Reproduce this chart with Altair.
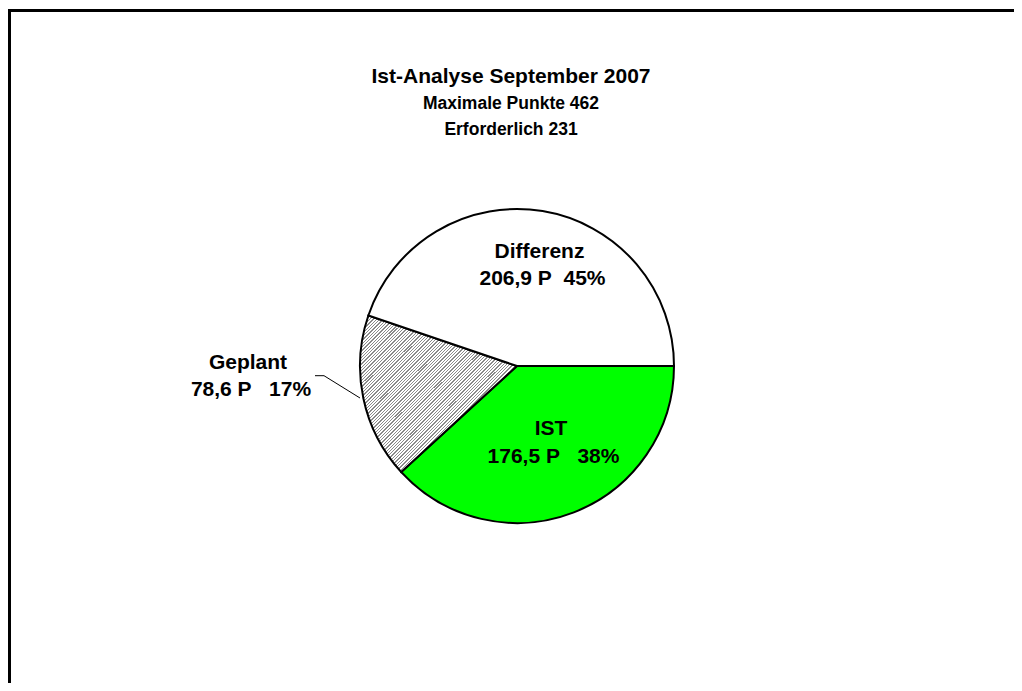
import math
import altair as alt
import pandas as pd

# ---- data ----
categories = ["IST", "Geplant", "Differenz"]
points = [176.5, 78.6, 206.9]
slice_order = [0, 1, 2]
gaps = ["\u00a0\u00a0 ", "\u00a0\u00a0 ", "\u00a0 "]
title_lines = ["Ist-Analyse September 2007", "Maximale Punkte 462", "Erforderlich 231"]

total = sum(points)


def fmt(v):
    return f"{v:.1f}".replace(".", ",")


details = [
    f"{fmt(v)} P{g}{round(v / total * 100)}%" for v, g in zip(points, gaps)
]

df = pd.DataFrame(
    {"cat": categories, "val": points, "ord": slice_order, "detail": details}
)

# ---- hatch (diagonal stripes) as a sharp-stop linear gradient ----
n = 95
stops = []
for i in range(n):
    a = round(i / n, 5)
    b = round((i + 0.4) / n, 5)
    c = round((i + 1) / n, 5)
    stops += [
        {"offset": a, "color": "#8a8a8a"},
        {"offset": b, "color": "#8a8a8a"},
        {"offset": b, "color": "#ffffff"},
        {"offset": c, "color": "#ffffff"},
    ]
hatch = {"gradient": "linear", "x1": 0, "y1": 0, "x2": 1, "y2": 1, "stops": stops}

fill = (
    alt.when(alt.datum.cat == "IST")
    .then(alt.value("#00ff00"))
    .when(alt.datum.cat == "Geplant")
    .then(alt.value(hatch))
    .otherwise(alt.value("#ffffff"))
)

CX, CY = 509, 358

pie = (
    alt.Chart(df)
    .mark_arc(radius=157, stroke="black", strokeWidth=2)
    .encode(
        theta=alt.Theta(
            "val:Q",
            stack=True,
            scale=alt.Scale(range=[math.pi / 2, math.pi / 2 + 2 * math.pi]),
        ),
        order=alt.Order("ord:Q"),
        fill=fill,
        x=alt.value(CX),
        y=alt.value(CY),
    )
)

FONT = "Liberation Sans"


def label(cat, field, x, y):
    return (
        alt.Chart(df)
        .transform_filter(alt.datum.cat == cat)
        .mark_text(
            font=FONT,
            fontWeight="bold",
            fontSize=21,
            align="center",
            baseline="alphabetic",
            color="black",
        )
        .encode(x=alt.value(x), y=alt.value(y), text=f"{field}:N")
    )


labels = [
    label("Differenz", "cat", 531.5, 249.5),
    label("Differenz", "detail", 534.5, 277),
    label("Geplant", "cat", 240, 361),
    label("Geplant", "detail", 243, 388),
    label("IST", "cat", 543, 427),
    label("IST", "detail", 545.5, 455),
]

one = pd.DataFrame({"k": [0]})


def title_text(txt, size, y):
    return (
        alt.Chart(one)
        .mark_text(
            font=FONT,
            fontWeight="bold",
            fontSize=size,
            align="center",
            baseline="alphabetic",
            color="black",
        )
        .encode(x=alt.value(503), y=alt.value(y), text=alt.value(txt))
    )


titles = [
    title_text(title_lines[0], 21, 74.5),
    title_text(title_lines[1], 17.5, 100.5),
    title_text(title_lines[2], 17.5, 126.5),
]

frame_top = (
    alt.Chart(one)
    .mark_rule(color="black", strokeWidth=3)
    .encode(x=alt.value(0), x2=alt.value(1010), y=alt.value(2.5))
)
frame_left = (
    alt.Chart(one)
    .mark_rule(color="black", strokeWidth=3)
    .encode(x=alt.value(1.5), y=alt.value(1), y2=alt.value(675))
)

leader1 = (
    alt.Chart(one)
    .mark_rule(color="black", strokeWidth=1)
    .encode(x=alt.value(307), x2=alt.value(316), y=alt.value(367.7), y2=alt.value(367.7))
)
leader2 = (
    alt.Chart(one)
    .mark_rule(color="black", strokeWidth=1)
    .encode(x=alt.value(316), x2=alt.value(352), y=alt.value(367.7), y2=alt.value(390))
)

chart = (
    alt.layer(pie, leader1, leader2, frame_top, frame_left, *labels, *titles)
    .properties(
        width=1006,
        height=675,
        autosize=alt.AutoSizeParams(type="none"),
        padding=0,
        background="#ffffff",
    )
    .configure_view(strokeWidth=0)
)

chart.save("out.html", embed_options={"renderer": "svg", "actions": False})
